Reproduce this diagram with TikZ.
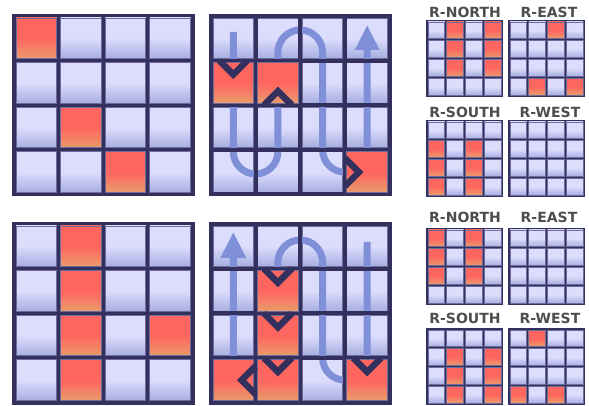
\documentclass[tikz,border=0pt]{standalone}
\usepackage{fontspec}
\usepackage{tikz}
\usetikzlibrary{arrows.meta}

\newfontfamily\lblfont{DejaVu Sans}

\definecolor{framecol}{HTML}{34305E}
\definecolor{cellrim}{HTML}{6E6C9C}
\definecolor{coldtop}{HTML}{DCDCFC}
\definecolor{coldbot}{HTML}{A6AEE0}
\definecolor{hottop}{HTML}{FF665F}
\definecolor{hotbot}{HTML}{E89C6C}
\definecolor{snakecol}{HTML}{7F8FD8}
\definecolor{lblgray}{HTML}{4D4D4D}

\pgfdeclareverticalshading{coldshade}{100bp}{color(0bp)=(coldbot); color(25bp)=(coldbot);
  color(50bp)=(coldtop); color(100bp)=(coldtop)}
\pgfdeclareverticalshading{hotshade}{100bp}{color(0bp)=(hotbot); color(25bp)=(hotbot);
  color(50bp)=(hottop); color(100bp)=(hottop)}

\tikzset{
  lightcell/.style={shading=coldshade, draw=cellrim, line width=0.8pt},
  hotcell/.style={shading=hotshade, draw=cellrim, line width=0.8pt},
  snake/.style={draw=snakecol, line width=7pt, rounded corners=22.3pt},
  stopmark/.style={draw=framecol, line width=6.5pt, line join=miter},
  gridlbl/.style={font=\lblfont\bfseries\fontsize{14}{14}\selectfont, text=lblgray, inner sep=0pt},
}

% #1 x, #2 y, #3 size, #4 gap
\newcommand{\gridbase}[4]{%
  \pgfmathsetmacro{\cellw}{(#3-5*#4)/4}
  \fill[framecol] (#1,#2) rectangle ++(#3,#3);
  \foreach \r in {0,...,3}{
    \foreach \c in {0,...,3}{
      \path[lightcell] ({#1+#4+\c*(\cellw+#4)},{#2+#4+\r*(\cellw+#4)}) rectangle ++(\cellw,\cellw);
    }
  }
}
\newcommand{\gridrules}[4]{%
  \pgfmathsetmacro{\cellw}{(#3-5*#4)/4}
  \foreach \k in {0,...,4}{
    \draw[framecol, line width=#4pt] ({#1+#4/2+\k*(\cellw+#4)},#2) -- ++(0,#3);
    \draw[framecol, line width=#4pt] (#1,{#2+#4/2+\k*(\cellw+#4)}) -- ++(#3,0);
  }
}
% #5 list of row/col
\newcommand{\hotcells}[5]{%
  \pgfmathsetmacro{\cellw}{(#3-5*#4)/4}
  \foreach \r/\c in {#5}{
    \path[hotcell] ({#1+#4+\c*(\cellw+#4)},{#2+#4+\r*(\cellw+#4)}) rectangle ++(\cellw,\cellw);
  }
}

\begin{document}
\begin{tikzpicture}[x=1pt, y=-1pt]
    \useasboundingbox (0,0) rectangle (589,406);

    % base grids
    \gridbase{12}{14}{182.5}{4}
    \gridbase{209}{14}{182.5}{4}
    \gridbase{12}{222}{182.5}{4}
    \gridbase{209}{222}{182.5}{4}
    \foreach \gx/\gy in {426/20, 508/20, 426/120, 508/120, 426/228, 508/228, 426/328, 508/328}
        \gridbase{\gx}{\gy}{77}{2};

    % snakes
    \draw[snake, -{Triangle[length=25pt, width=23pt]}] (233.3,32) -- (233.3,174) -- (277.9,174) -- (277.9,30)
        -- (322.6,30) -- (322.6,172.2) -- (367.2,172.2) -- (367.2,25);
    \draw[snake, -{Triangle[length=26pt, width=24pt]}] (367.2,242) -- (367.2,380.2) -- (322.6,380.2) -- (322.6,240)
        -- (277.9,240) -- (277.9,380.2) -- (233.3,380.2) -- (233.3,232);
    \gridrules{209}{14}{182.5}{4}
    \gridrules{209}{222}{182.5}{4}

    % red cells
    \hotcells{12}{14}{182.5}{4}{0/0, 2/1, 3/2}
    \hotcells{209}{14}{182.5}{4}{1/0, 1/1, 3/3}
    \hotcells{12}{222}{182.5}{4}{0/1, 1/1, 2/1, 3/1, 2/3}
    \hotcells{209}{222}{182.5}{4}{1/1, 2/1, 3/1, 3/0, 3/3}
    \hotcells{426}{20}{77}{2}{0/1, 0/3, 1/1, 1/3, 2/1, 2/3}
    \hotcells{508}{20}{77}{2}{0/2, 3/1, 3/3}
    \hotcells{426}{120}{77}{2}{1/0, 1/2, 2/0, 2/2, 3/0, 3/2}
    \hotcells{426}{228}{77}{2}{0/0, 0/2, 1/0, 1/2, 2/0, 2/2}
    \hotcells{426}{328}{77}{2}{1/1, 1/3, 2/1, 2/3, 3/1, 3/3}
    \hotcells{508}{328}{77}{2}{0/1, 3/0, 3/2}

    % blocked marks
    \draw[stopmark] (219.3,60.6) -- ++(14,14) -- ++(14,-14);
    \draw[stopmark] (263.9,105.25) -- ++(14,-14) -- ++(14,14);
    \draw[stopmark] (344.9,158.2) -- ++(14,14) -- ++(-14,14);
    \foreach \yy in {268.6, 313.25, 357.9}
        \draw[stopmark] (263.9,\yy) -- ++(14,14) -- ++(14,-14);
    \draw[stopmark] (353.2,357.9) -- ++(14,14) -- ++(14,-14);
    \draw[stopmark] (255.6,366.2) -- ++(-14,14) -- ++(14,14);

    % labels
    \node[gridlbl] (north1) at (465,12) {R-NORTH};
    \node[gridlbl] (east1) at (549,12) {R-EAST};
    \node[gridlbl] (south1) at (465,112) {R-SOUTH};
    \node[gridlbl] (west1) at (550,112) {R-WEST};
    \node[gridlbl] (north2) at (465,217) {R-NORTH};
    \node[gridlbl] (east2) at (549,217) {R-EAST};
    \node[gridlbl] (south2) at (465,318) {R-SOUTH};
    \node[gridlbl] (west2) at (550,318) {R-WEST};
\end{tikzpicture}
\end{document}
